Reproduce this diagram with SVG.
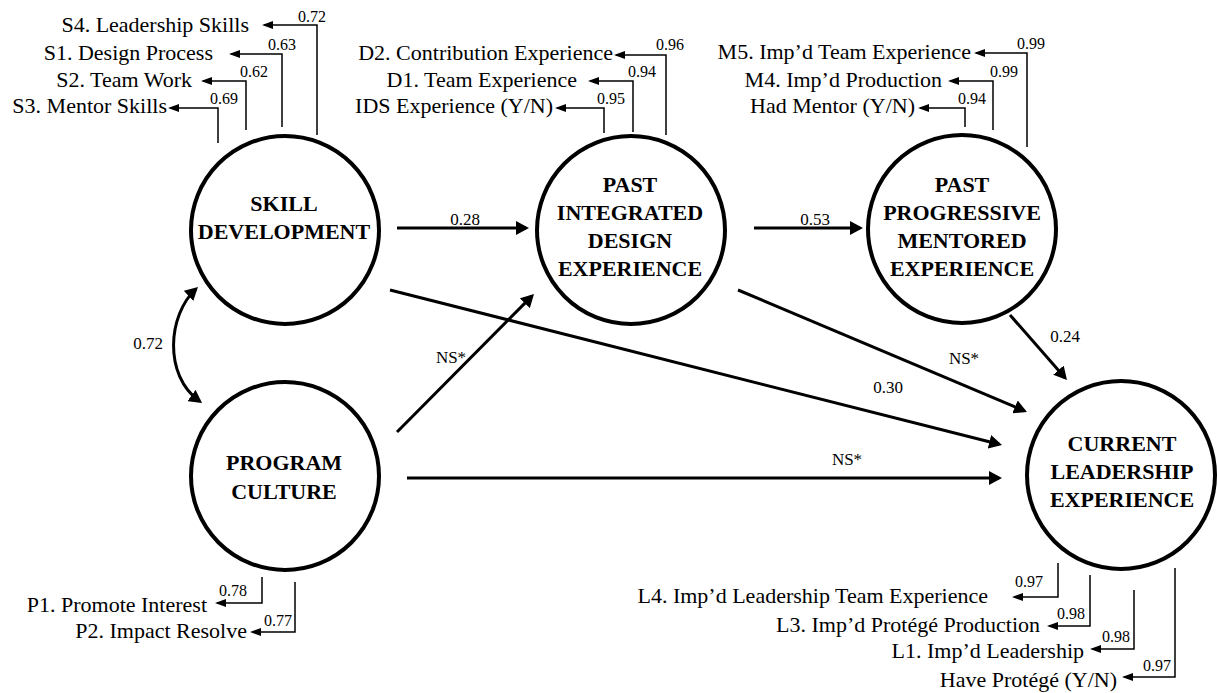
<svg xmlns="http://www.w3.org/2000/svg" width="1217" height="693" viewBox="0 0 1217 693">
<style>
text{font-family:"Liberation Serif","Times New Roman",serif;fill:#000}
.lat circle{fill:none;stroke:#000;stroke-width:4}
.lat text{font-weight:bold;font-size:22px;text-anchor:middle}
.ind{font-size:22px;text-anchor:end}
.ld{font-size:16px;text-anchor:middle}
.pl{font-size:17px;text-anchor:middle}
.thick{fill:none;stroke:#000;stroke-width:3;marker-end:url(#ah)}
.thin{fill:none;stroke:#000;stroke-width:1.5;marker-end:url(#as)}
</style>
<defs>
<marker id="ah" markerUnits="userSpaceOnUse" viewBox="0 0 13 14" markerWidth="13" markerHeight="14" refX="10" refY="7" orient="auto"><path d="M0,0 L13,7 L0,14 z" fill="#000"/></marker>
<marker id="ahs" markerUnits="userSpaceOnUse" viewBox="0 0 13 14" markerWidth="13" markerHeight="14" refX="10" refY="7" orient="auto-start-reverse"><path d="M0,0 L13,7 L0,14 z" fill="#000"/></marker>
<marker id="as" markerUnits="userSpaceOnUse" viewBox="0 0 11 8" markerWidth="11" markerHeight="8" refX="9" refY="4" orient="auto"><path d="M0,0 L11,4 L0,8 z" fill="#000"/></marker>
</defs>
<rect width="1217" height="693" fill="#fff"/>

<g id="connectors">
<path class="thick" d="M397,228 L526,228"/>
<path class="thick" d="M754,228 L860,228"/>
<path class="thick" d="M1010,315 L1065,377.7"/>
<path class="thick" d="M738,290 L1024.2,410.8"/>
<path class="thick" d="M390,290 L999.1,444.3"/>
<path class="thick" d="M407,478 L999,478"/>
<path class="thick" d="M397,432 L531.9,296.1"/>
<path fill="none" stroke="#000" stroke-width="3" marker-start="url(#ahs)" marker-end="url(#ahs)" d="M195.8,289 C168,315 163,375 199.6,401.3"/>
<text class="pl" x="465" y="225">0.28</text>
<text class="pl" x="815" y="225">0.53</text>
<text class="pl" x="1065" y="342">0.24</text>
<text class="pl" x="964" y="364">NS*</text>
<text class="pl" x="888" y="393">0.30</text>
<text class="pl" x="847" y="465">NS*</text>
<text class="pl" x="451" y="363">NS*</text>
<text class="pl" x="163" y="349" style="text-anchor:end">0.72</text>

<path class="thin" d="M317,135 V25 H264"/>
<path class="thin" d="M282,127 V54 H231"/>
<path class="thin" d="M246,130 V81 H203"/>
<path class="thin" d="M218,143 V108 H170"/>
<text class="ld" x="312" y="22">0.72</text>
<text class="ld" x="282" y="50">0.63</text>
<text class="ld" x="254" y="77">0.62</text>
<text class="ld" x="224" y="104">0.69</text>

<path class="thin" d="M666,135 V55 H616"/>
<path class="thin" d="M633,132 V81 H590"/>
<path class="thin" d="M604,133 V108 H557"/>
<text class="ld" x="670" y="50">0.96</text>
<text class="ld" x="642" y="77">0.94</text>
<text class="ld" x="611" y="104">0.95</text>

<path class="thin" d="M1027,147 V53 H976"/>
<path class="thin" d="M993,130 V81 H950"/>
<path class="thin" d="M965,127 V108 H920"/>
<text class="ld" x="1031" y="49">0.99</text>
<text class="ld" x="1004" y="77">0.99</text>
<text class="ld" x="972" y="104">0.94</text>

<path class="thin" d="M262,577 V603 H217"/>
<path class="thin" d="M295,582 V632 H252"/>
<text class="ld" x="233" y="596">0.78</text>
<text class="ld" x="278" y="626">0.77</text>

<path class="thin" d="M1058,563 V597 H1014"/>
<path class="thin" d="M1090,575 V626 H1049"/>
<path class="thin" d="M1134,590 V649 H1092"/>
<path class="thin" d="M1175,568 V677 H1124"/>
<text class="ld" x="1029" y="587">0.97</text>
<text class="ld" x="1071" y="619">0.98</text>
<text class="ld" x="1116" y="642">0.98</text>
<text class="ld" x="1157" y="671">0.97</text>
</g>

<g id="skill-development" class="lat">
<circle cx="285" cy="230" r="94"/>
<text x="284" y="211">SKILL</text>
<text x="284" y="239">DEVELOPMENT</text>
</g>
<g id="program-culture" class="lat">
<circle cx="285" cy="476" r="94"/>
<text x="284" y="470">PROGRAM</text>
<text x="284" y="499">CULTURE</text>
</g>
<g id="past-integrated-design-experience" class="lat">
<circle cx="631" cy="230" r="94"/>
<text x="630" y="192">PAST</text>
<text x="630" y="220">INTEGRATED</text>
<text x="630" y="248">DESIGN</text>
<text x="630" y="276">EXPERIENCE</text>
</g>
<g id="past-progressive-mentored-experience" class="lat">
<circle cx="962" cy="229" r="94"/>
<text x="962" y="192">PAST</text>
<text x="962" y="220">PROGRESSIVE</text>
<text x="962" y="248">MENTORED</text>
<text x="962" y="276">EXPERIENCE</text>
</g>
<g id="current-leadership-experience" class="lat">
<circle cx="1121" cy="475" r="94"/>
<text x="1122" y="451">CURRENT</text>
<text x="1122" y="479">LEADERSHIP</text>
<text x="1122" y="507">EXPERIENCE</text>
</g>

<g id="ind-S4"><text class="ind" x="249" y="32">S4. Leadership Skills</text></g>
<g id="ind-S1"><text class="ind" x="213" y="60">S1. Design Process</text></g>
<g id="ind-S2"><text class="ind" x="192" y="87">S2. Team Work</text></g>
<g id="ind-S3"><text class="ind" x="167" y="113">S3. Mentor Skills</text></g>
<g id="ind-D2"><text class="ind" x="613" y="60">D2. Contribution Experience</text></g>
<g id="ind-D1"><text class="ind" x="577" y="87">D1. Team Experience</text></g>
<g id="ind-IDS"><text class="ind" x="553" y="113">IDS Experience (Y/N)</text></g>
<g id="ind-M5"><text class="ind" x="971" y="59">M5. Imp’d Team Experience</text></g>
<g id="ind-M4"><text class="ind" x="942" y="87">M4. Imp’d Production</text></g>
<g id="ind-HM"><text class="ind" x="915" y="113">Had Mentor (Y/N)</text></g>
<g id="ind-P1"><text class="ind" x="207" y="612">P1. Promote Interest</text></g>
<g id="ind-P2"><text class="ind" x="247" y="638">P2. Impact Resolve</text></g>
<g id="ind-L4"><text class="ind" x="988" y="603">L4. Imp’d Leadership Team Experience</text></g>
<g id="ind-L3"><text class="ind" x="1040" y="632">L3. Imp’d Protégé Production</text></g>
<g id="ind-L1"><text class="ind" x="1084" y="658">L1. Imp’d Leadership</text></g>
<g id="ind-HP"><text class="ind" x="1117" y="687">Have Protégé (Y/N)</text></g>
</svg>
